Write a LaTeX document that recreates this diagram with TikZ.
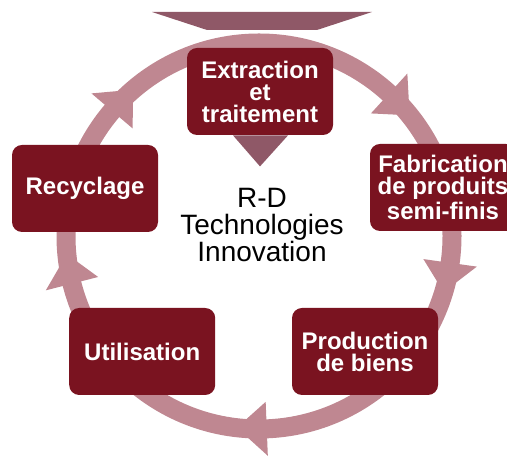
\documentclass[tikz,border=0pt]{standalone}
\usepackage{fontspec}
\setmainfont{Liberation Sans}
\usetikzlibrary{calc,positioning}
\definecolor{boxred}{RGB}{122,19,32}
\definecolor{ringpink}{RGB}{191,135,145}
\definecolor{mauve}{RGB}{143,88,103}

\begin{document}
\begin{tikzpicture}[x=0.5pt,y=0.5pt]

\tikzset{stage/.style={fill=boxred,rounded corners=5pt,inner sep=0pt,minimum width=73pt,minimum height=43.5pt,text=white,align=center,font=\bfseries\fontsize{12}{11}\selectfont},
ring/.style={draw=ringpink,line width=9.5pt},
ringtip/.style={fill=ringpink},
wedge/.style={fill=mauve}}

\useasboundingbox (0,0) rectangle (507,458);

% Cycle ring
\coordinate (hub) at (259,222);
\draw[ring] (hub) circle (96.5pt);

% Arrow tips on the ring (clockwise)
\fill[ringtip] ($(hub)+(139.6:110pt)$) -- ($(hub)+(139.6:83pt)$) -- ($(hub)+(130.7:96.5pt)$) -- cycle;
\fill[ringtip] ($(hub)+(47.6:110pt)$) -- ($(hub)+(47.6:83pt)$) -- ($(hub)+(38.7:96.5pt)$) -- cycle;
\fill[ringtip] ($(hub)+(352:110pt)$) -- ($(hub)+(352:83pt)$) -- ($(hub)+(343.1:96.5pt)$) -- cycle;
\fill[ringtip] ($(hub)+(272.3:110pt)$) -- ($(hub)+(272.3:83pt)$) -- ($(hub)+(263.4:96.5pt)$) -- cycle;
\fill[ringtip] ($(hub)+(194.3:110pt)$) -- ($(hub)+(194.3:83pt)$) -- ($(hub)+(185.4:96.5pt)$) -- cycle;

% Top wedge
\fill[wedge] (152,446) -- (372,446) -- (317,428) -- (207,428) -- cycle;

% Stages
\node[stage] (extr) at (260,366.5) {Extraction\\et\\traitement};
\node[stage] (fabr) at (443,270.5) {Fabrication\\de produits\\semi-finis};
\node[stage] (prod) at (365,106.5) {Production\\de biens};
\node[stage] (util) [left=38pt of prod] {Utilisation};
\node[stage] (recy) at (85,269.5) {Recyclage};

% Pointer under the first stage
\fill[wedge] ($(extr.south)+(-27,0)$) -- ($(extr.south)+(28,0)$) -- ($(extr.south)+(0,-31)$) -- cycle;

% Centre text
\node[font=\fontsize{14}{13.3}\selectfont,align=center] (rd) at (262,233) {R-D\\Technologies\\Innovation};

\end{tikzpicture}
\end{document}
